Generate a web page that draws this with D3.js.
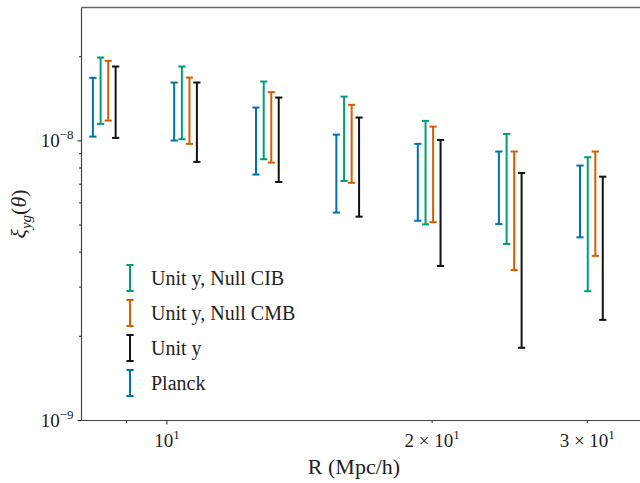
<!DOCTYPE html>
<html>
<head>
<meta charset="utf-8">
<script src="https://cdn.jsdelivr.net/npm/d3@7"></script>
<style>
  body { margin: 0; background: #fff; }
  text { font-family: "Liberation Serif", "DejaVu Serif", serif; fill: #222; }
</style>
</head>
<body>
<svg width="640" height="483"></svg>
<script>
// bin centres (Mpc/h)
const R = [8.41, 10.40, 12.88, 15.89, 19.66, 24.30, 30.04];

// error bar extents, in units of 1e-8
const planckLo = [1.036, 1.003, 0.758, 0.554, 0.518, 0.504, 0.452];
const planckHi = [1.681, 1.617, 1.316, 1.053, 0.976, 0.916, 0.816];
const cibLo = [1.150, 1.014, 0.860, 0.719, 0.503, 0.428, 0.290];
const cibHi = [1.987, 1.845, 1.631, 1.440, 1.179, 1.059, 0.874];
const cmbLo = [1.182, 0.976, 0.836, 0.708, 0.512, 0.345, 0.388];
const cmbHi = [1.934, 1.685, 1.494, 1.346, 1.125, 0.916, 0.916];
const unitLo = [1.025, 0.841, 0.713, 0.536, 0.357, 0.182, 0.229];
const unitHi = [1.845, 1.617, 1.429, 1.212, 1.008, 0.768, 0.745];

// x shift factor of each series so bars sit side by side
const series = [
  { name: "Planck", lo: planckLo, hi: planckHi, shift: 0.98, color: "#0072b2" },
  { name: "Unit y, Null CIB", lo: cibLo, hi: cibHi, shift: 1.0, color: "#009e73" },
  { name: "Unit y, Null CMB", lo: cmbLo, hi: cmbHi, shift: 1.02, color: "#d55e00" },
  { name: "Unit y", lo: unitLo, hi: unitHi, shift: 1.04, color: "#111111" },
];
const legendOrder = ["Unit y, Null CIB", "Unit y, Null CMB", "Unit y", "Planck"];

const padL = 81.5, padR = 657, padT = 7.5, padB = 420.5;

const svg = d3.select("svg");

const x = d3.scaleLog().domain([8, 36]).range([padL, padR]);
const y = d3.scaleLog().domain([1e-9, 3e-8]).range([padB, padT]);

// error bars
const cap = 3.6;
series.forEach((s) => {
  const g = svg.append("g").attr("stroke", s.color).attr("stroke-width", 2);
  R.forEach((r, i) => {
    const xp = x(r * s.shift);
    const y0 = y(s.lo[i] * 1e-8);
    const y1 = y(s.hi[i] * 1e-8);
    g.append("line").attr("x1", xp).attr("x2", xp).attr("y1", y0).attr("y2", y1);
    g.append("line").attr("x1", xp - cap).attr("x2", xp + cap).attr("y1", y0).attr("y2", y0);
    g.append("line").attr("x1", xp - cap).attr("x2", xp + cap).attr("y1", y1).attr("y2", y1);
  });
});

// spines
svg.append("line").attr("x1", padL).attr("x2", padL).attr("y1", padT).attr("y2", padB)
  .attr("stroke", "#444").attr("stroke-width", 1.2);
svg.append("line").attr("x1", padL).attr("x2", padR).attr("y1", padB).attr("y2", padB)
  .attr("stroke", "#444").attr("stroke-width", 1.2);
svg.append("line").attr("x1", padL).attr("x2", padR).attr("y1", padT).attr("y2", padT)
  .attr("stroke", "#666").attr("stroke-width", 1.6);

// y ticks
const yMinor = [];
for (let e = -9; e <= -8; e++) {
  for (let m = 2; m <= 9; m++) {
    const v = m * Math.pow(10, e);
    if (v <= 3e-8) yMinor.push(v);
  }
}
svg.append("g").selectAll("line").data(yMinor).enter().append("line")
  .attr("x1", padL - 2.5).attr("x2", padL)
  .attr("y1", (d) => y(d)).attr("y2", (d) => y(d))
  .attr("stroke", "#222").attr("stroke-width", 1);

const yMajor = [1e-9, 1e-8];
const yt = svg.append("g").selectAll("g").data(yMajor).enter().append("g")
  .attr("transform", (d) => `translate(0,${y(d)})`);
yt.append("line").attr("x1", padL - 4).attr("x2", padL).attr("stroke", "#222").attr("stroke-width", 1);
const ytl = yt.append("text").attr("x", padL - 8).attr("y", 6).attr("text-anchor", "end")
  .attr("font-size", 19);
ytl.append("tspan").text("10");
ytl.append("tspan").attr("dy", -8).attr("font-size", 13)
  .text((d) => "\u2212" + Math.round(-Math.log10(d)));

// x ticks
const xMinor = [9, 20, 30];
svg.append("g").selectAll("line").data(xMinor).enter().append("line")
  .attr("x1", (d) => x(d)).attr("x2", (d) => x(d))
  .attr("y1", padB).attr("y2", padB + 2.5)
  .attr("stroke", "#222").attr("stroke-width", 1);
svg.append("line").attr("x1", x(10)).attr("x2", x(10)).attr("y1", padB).attr("y2", padB + 4)
  .attr("stroke", "#222").attr("stroke-width", 1);

const xLabels = [
  { v: 10, mant: "" },
  { v: 20, mant: "2 \u00d7 " },
  { v: 30, mant: "3 \u00d7 " },
];
const xtl = svg.append("g").selectAll("text").data(xLabels).enter().append("text")
  .attr("x", (d) => x(d.v)).attr("y", padB + 26).attr("text-anchor", "middle")
  .attr("font-size", 19);
xtl.append("tspan").text((d) => d.mant + "10");
xtl.append("tspan").attr("dy", -8).attr("font-size", 13).text("1");

// axis labels
svg.append("text").attr("x", 354).attr("y", 474).attr("text-anchor", "middle")
  .attr("font-size", 22).text("R (Mpc/h)");

const yl = svg.append("text").attr("transform", "translate(26,214) rotate(-90)")
  .attr("text-anchor", "middle").attr("font-size", 22);
yl.append("tspan").attr("font-style", "italic").text("\u03be");
yl.append("tspan").attr("font-style", "italic").attr("font-size", 15).attr("dy", 5).text("yg");
yl.append("tspan").attr("dy", -5).text("(");
yl.append("tspan").attr("font-style", "italic").text("\u03b8");
yl.append("tspan").text(")");

// legend
const lg = svg.append("g").selectAll("g").data(legendOrder).enter().append("g")
  .attr("transform", (d, i) => `translate(130,${278 + i * 35})`);
lg.each(function (name) {
  const s = series.find((t) => t.name === name);
  const g = d3.select(this).append("g").attr("stroke", s.color).attr("stroke-width", 2);
  g.append("line").attr("x1", 0).attr("x2", 0).attr("y1", -13).attr("y2", 13);
  g.append("line").attr("x1", -cap).attr("x2", cap).attr("y1", -13).attr("y2", -13);
  g.append("line").attr("x1", -cap).attr("x2", cap).attr("y1", 13).attr("y2", 13);
});
lg.append("text").attr("x", 21).attr("y", 7).attr("font-size", 20).text((d) => d);
</script>
</body>
</html>
